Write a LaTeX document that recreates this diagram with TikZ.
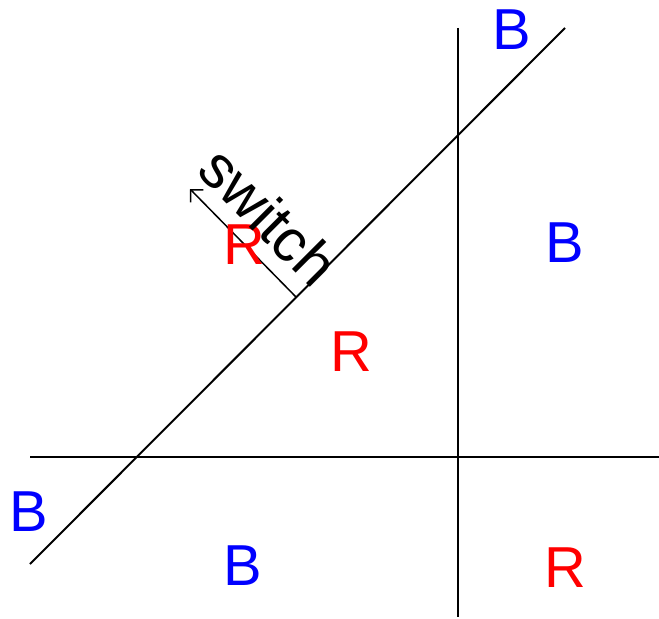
\documentclass[tikz,border=0pt]{standalone}
\usepackage{fontspec}
\setmainfont{Liberation Sans}
\usetikzlibrary{arrows.meta}
\begin{document}
\begin{tikzpicture}[x=1bp,y=-1bp,
  ln/.style={line width=2bp,black},
  lab/.style={font=\fontsize{58}{64}\selectfont, inner sep=0pt, anchor=center},
  rl/.style={lab,text=red},
  bl/.style={lab,text=blue}]
\useasboundingbox (0,0) rectangle (659,619);
\coordinate (h1) at (30,457);
\coordinate (h2) at (659,457);
\coordinate (v1) at (458,28);
\coordinate (v2) at (458,617);
\coordinate (d1) at (30,564);
\coordinate (d2) at (565,28);
\coordinate (s1) at (296,297);
\coordinate (s2) at (190,189);
\draw[ln] (h1) -- (h2);
\draw[ln] (v1) -- (v2);
\draw[ln] (d1) -- (d2);
\draw[line width=1.5bp,-{Straight Barb[length=9bp,width=18bp,line width=1.5bp]}] (s1) -- (s2);
\node[bl] (b1) at (512,30) {B};
\node[bl] (b2) at (565,243) {B};
\node[rl] (r1) at (244,245) {R};
\node[rl] (r2) at (351,352) {R};
\node[bl] (b3) at (29,512) {B};
\node[bl] (b4) at (243,566) {B};
\node[rl] (r3) at (565,568) {R};
\node[lab,font=\fontsize{60}{66}\selectfont,rotate=-45] (sw) at (269,216) {switch};
\end{tikzpicture}
\end{document}
